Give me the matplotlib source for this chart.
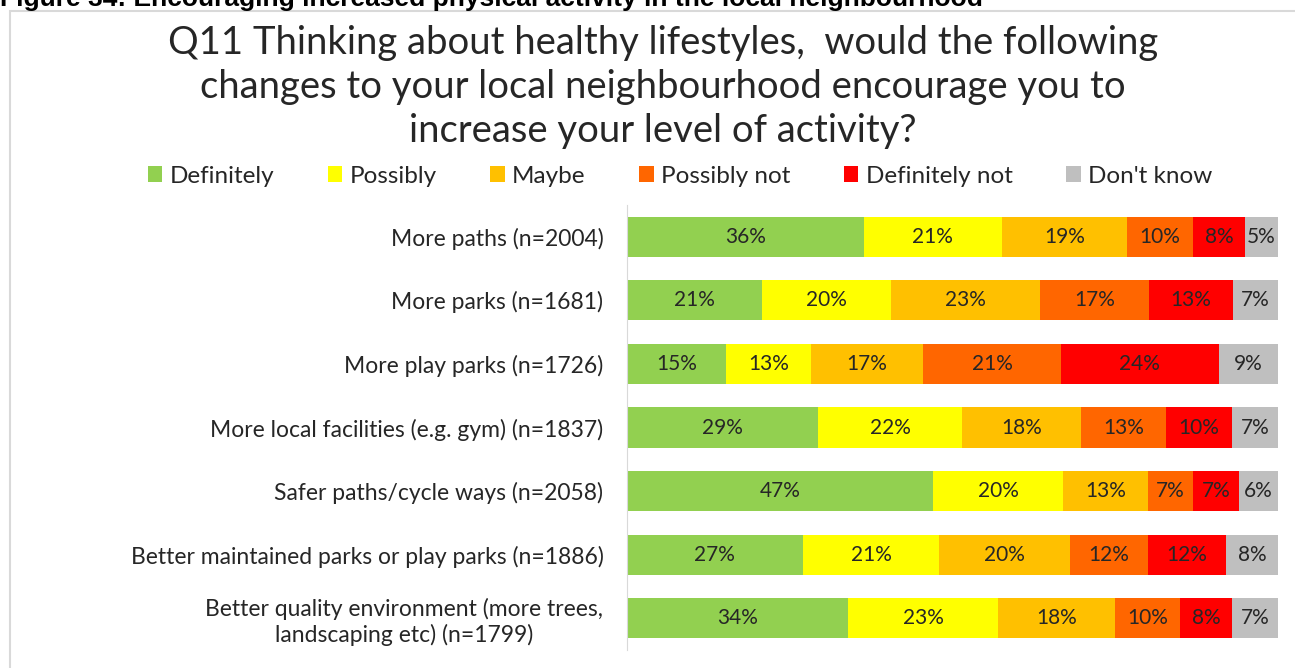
import matplotlib
matplotlib.use("Agg")
import matplotlib.pyplot as plt
from matplotlib.patches import Rectangle
import numpy as np

plt.rcParams['font.family'] = ['Lato', 'DejaVu Sans']

# Datos
categorias = ["More paths (n=2004)",
              "More parks (n=1681)",
              "More play parks (n=1726)",
              "More local facilities (e.g. gym) (n=1837)",
              "Safer paths/cycle ways (n=2058)",
              "Better maintained parks or play parks (n=1886)",
              "Better quality environment (more trees,\nlandscaping etc) (n=1799)"]
respuestas = ["Definitely", "Possibly", "Maybe", "Possibly not", "Definitely not", "Don't know"]
colores = ["#92D050", "#FFFF00", "#FFC000", "#FF6600", "#FF0000", "#BFBFBF"]

definitely = [36, 21, 15, 29, 47, 27, 34]
possibly = [21, 20, 13, 22, 20, 21, 23]
maybe = [19, 23, 17, 18, 13, 20, 18]
possibly_not = [10, 17, 21, 13, 7, 12, 10]
definitely_not = [8, 13, 24, 10, 7, 12, 8]
dont_know = [5, 7, 9, 7, 6, 8, 7]

series = np.array([definitely, possibly, maybe, possibly_not, definitely_not, dont_know], dtype=float)
totales = series.sum(axis=0)
porcentajes = series / totales * 100

W, H = 1295, 668
fig = plt.figure(figsize=(W / 100, H / 100), dpi=100)

# marco del grafico
fig.patches.append(Rectangle((10 / W, -0.1), 1.2, 1 - 11 / H + 0.1, transform=fig.transFigure,
                             fill=False, edgecolor="#D9D9D9", linewidth=1.5, zorder=0))

# encabezado (cortado arriba, como en el original)
fig.text(0, 1 - 6 / H, "Figure 34: Encouraging increased physical activity in the local neighbourhood",
         fontsize=19, fontweight="bold", family=["Liberation Sans", "DejaVu Sans"],
         ha="left", va="baseline", color="black")

fig.text(0.512, 1 - 25 / H,
         "Q11 Thinking about healthy lifestyles,  would the following\n"
         "changes to your local neighbourhood encourage you to\n"
         "increase your level of activity?",
         fontsize=27.5, ha="center", va="top", color="#262626", linespacing=1.27)

ax = fig.add_axes([627 / W, 1 - 650 / H, (1278 - 627) / W, (650 - 205) / H])
y = np.arange(len(categorias))
izq = np.zeros(len(categorias))
for i in range(len(respuestas)):
    ax.barh(y, porcentajes[i], left=izq, height=0.63, color=colores[i], label=respuestas[i])
    for j in range(len(categorias)):
        ax.text(izq[j] + porcentajes[i][j] / 2, y[j], f"{int(series[i][j])}%",
                ha="center", va="center", fontsize=15, color="#262626")
    izq += porcentajes[i]

ax.set_xlim(0, 100)
ax.set_ylim(len(categorias) - 0.5, -0.5)
ax.set_yticks(y)
ax.set_yticklabels(categorias, fontsize=16.5, color="#262626", ha="right", multialignment="center")
ax.tick_params(axis="y", length=0, pad=17)
ax.set_xticks([])
for lado in ["top", "right", "bottom"]:
    ax.spines[lado].set_visible(False)
ax.spines["left"].set_color("#D9D9D9")

fig.legend(loc="center", bbox_to_anchor=(0.525, 1 - 176 / H), ncol=6, frameon=False,
           fontsize=17.5, handlelength=0.6, handleheight=0.6, handletextpad=0.3, columnspacing=2.2,
           labelcolor="#262626")

fig.savefig("out.png", dpi=100)
